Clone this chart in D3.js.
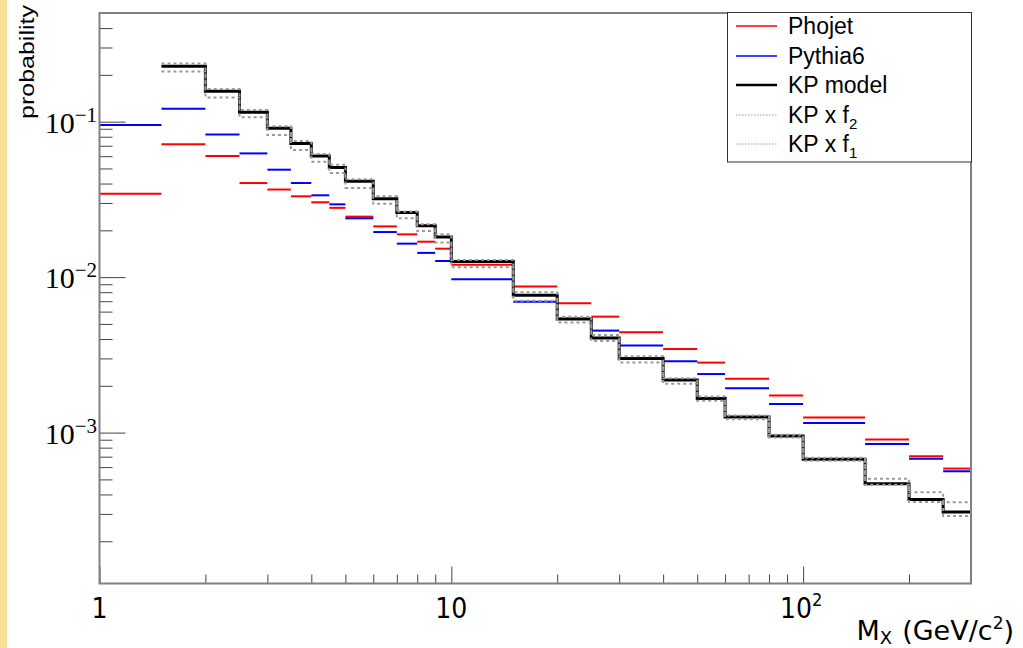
<!DOCTYPE html>
<html><head><meta charset="utf-8">
<script src="https://cdn.jsdelivr.net/npm/d3@7"></script>
<style>body{margin:0;background:#fff;} svg{display:block;}</style>
</head><body>
<script>
const edges = [1,1.5,2,2.5,3,3.5,4,4.5,5,6,7,8,9,10,15,20,25,30,40,50,60,80,100,150,200,250,300];
const phojet = [0.0344,0.0715,0.0602,0.0403,0.0366,0.0331,0.0303,0.0279,0.0245,0.0212,0.01885,0.0169,0.01524,0.0120,0.00869,0.00678,0.00557,0.00442,0.00345,0.00282,0.00222,0.00173,0.00125,0.000902,0.000704,0.000587];
const pythia6 = [0.0952,0.121,0.0828,0.0625,0.0491,0.0403,0.0336,0.0294,0.0239,0.0195,0.01642,0.01432,0.0127,0.00968,0.00695,0.0054,0.00453,0.003627,0.00288,0.00238,0.00193,0.00153,0.001153,0.000845,0.00068,0.000564];
const kpModel = [null,0.227,0.157,0.115,0.0906,0.0725,0.0602,0.0508,0.0413,0.0319,0.026,0.0214,0.0181,0.0126,0.00764,0.00538,0.00406,0.0030,0.00218,0.00166,0.00126,0.000952,0.000673,0.000468,0.000371,0.000309];
const kpF2 = [null,0.237,0.162,0.119,0.0933,0.075,0.0619,0.0529,0.0426,0.0331,0.0264,0.0219,0.01885,0.0129,0.00798,0.00557,0.00425,0.0031,0.00224,0.00171,0.00129,0.00097,0.00069,0.000504,0.000413,0.000357];
const kpF1 = [null,0.21,0.143,0.1066,0.082,0.0658,0.0553,0.0467,0.0375,0.0296,0.0239,0.0198,0.0167,0.01157,0.00706,0.0051,0.00389,0.00282,0.00206,0.0016,0.00122,0.00093,0.00066,0.000462,0.000358,0.000291];
const xMajor = [1,10,100];
const xMajorLabels = ["1","10","10^2"];
const xMinor = [2,3,4,5,6,7,8,9,20,30,40,50,60,70,80,90,200,300];
const yMajor = [0.1,0.01,0.001];
const yMajorExp = ["\u22121","\u22122","\u22123"];
const yMinor = [0.0002,0.0003,0.0004,0.0005,0.0006,0.0007,0.0008,0.0009,0.002,0.003,0.004,0.005,0.006,0.007,0.008,0.009,0.02,0.03,0.04,0.05,0.06,0.07,0.08,0.09,0.2,0.3,0.4];
const legendNames = ["Phojet","Pythia6","KP model","KP x f","KP x f"];
const legendSubs = [null,null,null,"2","1"];

const W=1023,H=648;
const L=99.5,R=971,T=13,B=583.5;
const svg = d3.select("body").append("svg").attr("width",W).attr("height",H);
svg.append("rect").attr("width",W).attr("height",H).attr("fill","#fff");
svg.append("rect").attr("x",0).attr("y",0).attr("width",7).attr("height",H).attr("fill","#f8e196");

const x = d3.scaleLog().domain([1,300]).range([L,R]);
const y = d3.scaleLog().domain([1.07e-4,0.5]).range([B,T]);

const plot = svg.append("g");
function drawBars(vals,color,w){
  plot.append("g").selectAll("line").data(vals.map((v,i)=>({v,i})).filter(d=>d.v!=null)).join("line")
    .attr("x1",d=>x(edges[d.i])).attr("x2",d=>x(edges[d.i+1]))
    .attr("y1",d=>y(d.v)).attr("y2",d=>y(d.v))
    .attr("stroke",color).attr("stroke-width",w);
}
function stepPath(vals){
  let p="";let started=false;
  vals.forEach((v,i)=>{
    if(v==null) return;
    const x0=x(edges[i]),x1=x(edges[i+1]),yy=y(v);
    if(!started){p+=`M${x0},${yy}`;started=true;} else p+=`L${x0},${yy}`;
    p+=`L${x1},${yy}`;
  });
  return p;
}
drawBars(phojet,"#ff0000",2);
drawBars(pythia6,"#0000ff",2);
plot.append("path").attr("d",stepPath(kpModel)).attr("fill","none").attr("stroke","#000").attr("stroke-width",3);
plot.append("path").attr("d",stepPath(kpF2)).attr("fill","none").attr("stroke","#9a9a9a").attr("stroke-width",2).attr("stroke-dasharray","3,3");
plot.append("path").attr("d",stepPath(kpF1)).attr("fill","none").attr("stroke","#9a9a9a").attr("stroke-width",2).attr("stroke-dasharray","3,3");

const tickCol="#444";
function styleAxis(g){g.select(".domain").remove();g.selectAll("line").attr("stroke",tickCol).attr("stroke-width",1);}
svg.append("g").attr("transform",`translate(0,${B})`).call(d3.axisBottom(x).tickValues(xMajor).tickSize(-17).tickFormat("")).call(styleAxis);
svg.append("g").attr("transform",`translate(0,${B})`).call(d3.axisBottom(x).tickValues(xMinor).tickSize(-9).tickFormat("")).call(styleAxis);
svg.append("g").attr("transform",`translate(${L},0)`).call(d3.axisLeft(y).tickValues(yMajor).tickSize(-26).tickFormat("")).call(styleAxis);
svg.append("g").attr("transform",`translate(${L},0)`).call(d3.axisLeft(y).tickValues(yMinor).tickSize(-13).tickFormat("")).call(styleAxis);

svg.append("rect").attr("x",L).attr("y",T).attr("width",R-L).attr("height",B-T).attr("fill","none").attr("stroke","#808080").attr("stroke-width",2);

// y labels
yMajor.forEach((v,i)=>{
  const t=svg.append("text").attr("x",97).attr("y",y(v)+11).attr("text-anchor","end")
    .attr("font-family","'Liberation Serif','DejaVu Serif',serif").attr("font-size",30).attr("fill","#000");
  t.append("tspan").text("10");
  t.append("tspan").attr("dy",-11).attr("font-size",21).text(yMajorExp[i]);
});
// x labels
const xf="'Liberation Sans Narrow','DejaVu Sans Condensed','DejaVu Sans',sans-serif";
xMajor.forEach((v,i)=>{
  const lab=xMajorLabels[i];
  const t=svg.append("text").attr("y",618).attr("font-family",xf).attr("font-size",28).attr("fill","#000").attr("text-anchor","middle");
  if(lab.includes("^")){
    const [b,e]=lab.split("^");
    t.attr("x",x(v)-2);
    t.append("tspan").text(b);
    t.append("tspan").attr("dy",-12).attr("font-size",18).text(e);
  } else {
    t.attr("x",x(v)).text(lab);
  }
});
// x title
const tf="'DejaVu Sans',sans-serif";
const xt=svg.append("text").attr("x",1014).attr("y",640).attr("text-anchor","end").attr("font-family",tf).attr("font-size",27).attr("fill","#000");
xt.append("tspan").text("M");
xt.append("tspan").attr("dy",4).attr("font-size",18).text("X");
xt.append("tspan").attr("dy",-4).attr("dx",10).text("(GeV/c");
xt.append("tspan").attr("dy",-11).attr("font-size",17).text("2");
xt.append("tspan").attr("dy",11).text(")");
// y title
svg.append("text").attr("transform","translate(34,5) rotate(-90)").attr("text-anchor","end")
  .attr("font-family","'Liberation Sans',Arial,sans-serif").attr("font-size",21)
  .attr("textLength",114).attr("lengthAdjust","spacingAndGlyphs").attr("fill","#000").text("probability");

// legend
const lg=svg.append("g");
lg.append("rect").attr("x",727.5).attr("y",12.5).attr("width",244).attr("height",149.5).attr("fill","#fff").attr("stroke","#333").attr("stroke-width",1);
const rowsY=[26,56,85,115,144];
const lstyles=[{c:"#ff0000",w:1.5,d:null},{c:"#0000ff",w:1.5,d:null},{c:"#000",w:2.5,d:null},{c:"#999",w:1,d:"1.5,1.5"},{c:"#999",w:1,d:"1.5,1.5"}];
legendNames.forEach((n,i)=>{
  const s=lstyles[i];
  const ln=lg.append("line").attr("x1",736).attr("x2",777).attr("y1",rowsY[i]).attr("y2",rowsY[i]).attr("stroke",s.c).attr("stroke-width",s.w);
  if(s.d) ln.attr("stroke-dasharray",s.d);
  const t=lg.append("text").attr("x",788).attr("y",rowsY[i]+8).attr("font-family","'Liberation Sans',Arial,sans-serif").attr("font-size",23).attr("fill","#000");
  t.append("tspan").text(n);
  if(legendSubs[i]) t.append("tspan").attr("dy",6).attr("font-size",15).text(legendSubs[i]);
});
</script>
</body></html>
